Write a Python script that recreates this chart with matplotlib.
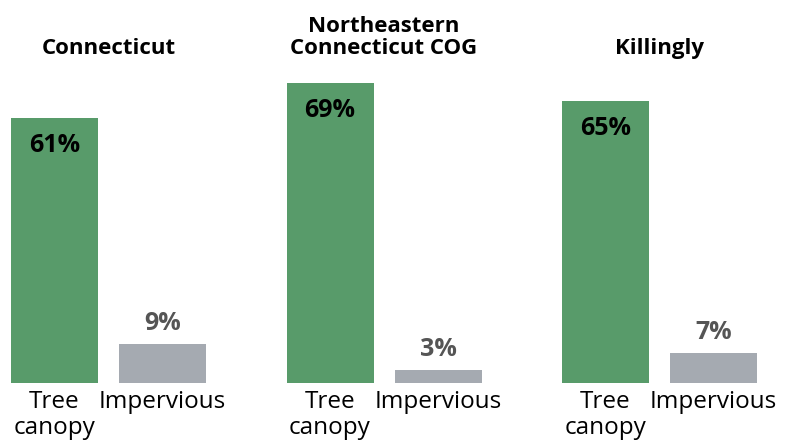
import matplotlib
matplotlib.use("Agg")
import matplotlib.pyplot as plt
import matplotlib.transforms as mtransforms
import numpy as np

plt.rcParams["font.family"] = ["Open Sans", "DejaVu Sans"]

regions = ["Connecticut", "Northeastern\nConnecticut COG", "Killingly"]
categories = ["Tree\ncanopy", "Impervious"]
tree_canopy = [61, 69, 65]
impervious = [9, 3, 7]
value_labels_tree = ["61%", "69%", "65%"]
value_labels_imp = ["9%", "3%", "7%"]

GREEN = "#589b6a"
GREY = "#a5aab1"
LABEL_GREY = "#555555"

W, H = 795, 442
fig = plt.figure(figsize=(W / 100, H / 100), dpi=100)

# plot area: baseline 59 px above the bottom edge, 265 px per 61 %
px_per_pct = 265 / 61
y_max = 88
ax = fig.add_axes([0, 59 / H, 1, y_max * px_per_pct / H])
ax.set_xlim(0, W)
ax.set_ylim(0, y_max)

bar_w = 87
group_step = 275.5
first_center = 54.5
pair_step = 108

groups = np.arange(len(regions))
x_tree = first_center + group_step * groups
x_imp = x_tree + pair_step

ax.bar(x_tree, tree_canopy, width=bar_w, color=GREEN)
ax.bar(x_imp, impervious, width=bar_w, color=GREY)

for x, v, lab in zip(x_tree, tree_canopy, value_labels_tree):
    ax.annotate(lab, (x, v), xytext=(0, -24.5), textcoords="offset points",
                ha="center", va="baseline", fontsize=18, fontweight="bold",
                color="black")
for x, v, lab in zip(x_imp, impervious, value_labels_imp):
    ax.annotate(lab, (x, v), xytext=(0, 10), textcoords="offset points",
                ha="center", va="baseline", fontsize=18, fontweight="bold",
                color=LABEL_GREY)

# region titles above each pair
trans = mtransforms.blended_transform_factory(ax.transData, fig.transFigure)
for x, name in zip((x_tree + x_imp) / 2, regions):
    ax.text(x, 1 - 54 / H, name, transform=trans, ha="center", va="baseline",
            fontsize=16, fontweight="bold", linespacing=1.05, color="black")

ticks = np.concatenate([x_tree, x_imp])
tick_labels = [categories[0]] * len(regions) + [categories[1]] * len(regions)
ax.set_xticks(ticks)
ax.set_xticklabels(tick_labels, fontsize=17.5, linespacing=1.1)
ax.tick_params(axis="x", length=0, pad=5)
ax.set_yticks([])
for s in ax.spines.values():
    s.set_visible(False)

fig.savefig("out.png", dpi=100)
